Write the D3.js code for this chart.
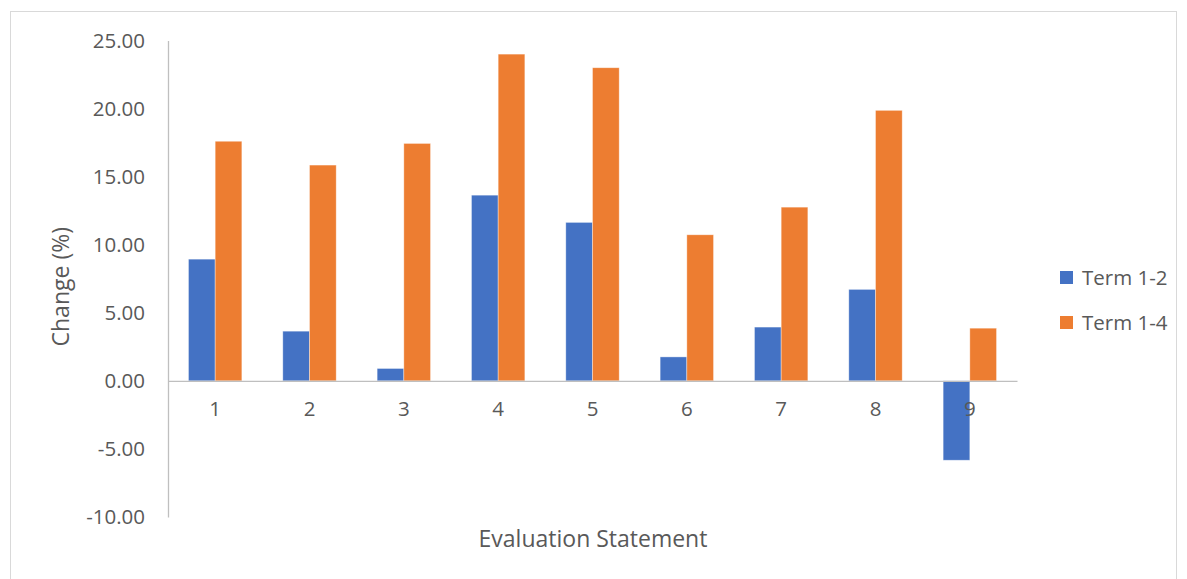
<!DOCTYPE html>
<html>
<head>
<meta charset="utf-8">
<script src="https://cdn.jsdelivr.net/npm/d3@7"></script>
<style>
  html, body { margin: 0; padding: 0; background: #fff; }
  svg text { font-family: "Open Sans", "Liberation Sans", sans-serif; fill: #595959; }
</style>
</head>
<body>
<svg id="chart" width="1187" height="579"></svg>
<script>
// Evaluation statements and percentage change per term comparison
const statements = ["1", "2", "3", "4", "5", "6", "7", "8", "9"];
const seriesNames = ["Term 1-2", "Term 1-4"];
const term12 = [8.94, 3.65, 0.91, 13.64, 11.64, 1.76, 3.95, 6.72, -5.83];
const term14 = [17.60, 15.85, 17.44, 24.00, 23.00, 10.73, 12.76, 19.87, 3.87];
const yTicks = [-10, -5, 0, 5, 10, 15, 20, 25];
const colors = ["#4472C4", "#ED7D31"];

const svg = d3.select("#chart");

// Outer chart frame
svg.append("rect")
  .attr("x", 10.5).attr("y", 11.5)
  .attr("width", 1166).attr("height", 580)
  .attr("fill", "none").attr("stroke", "#D9D9D9").attr("stroke-width", 1);

const plot = { left: 168, right: 1017, top: 40.5, bottom: 517 };

const y = d3.scaleLinear().domain([-10, 25]).range([plot.bottom, plot.top]);
const x0 = d3.scaleBand().domain(statements).range([plot.left, plot.right]).padding(0);
const groupWidth = x0.bandwidth() * 0.566;
const x1 = d3.scaleBand().domain(seriesNames)
  .range([(x0.bandwidth() - groupWidth) / 2, (x0.bandwidth() + groupWidth) / 2]);

const rows = statements.map((s, i) => ({ s, vals: [term12[i], term14[i]] }));

// Bars
const groups = svg.append("g").selectAll("g").data(rows).join("g")
  .attr("transform", d => `translate(${x0(d.s)},0)`);
groups.selectAll("rect")
  .data(d => d.vals.map((v, k) => ({ v, k })))
  .join("rect")
  .attr("x", d => x1(seriesNames[d.k]))
  .attr("width", x1.bandwidth())
  .attr("y", d => y(Math.max(0, d.v)))
  .attr("height", d => Math.abs(y(d.v) - y(0)))
  .attr("fill", d => colors[d.k])
  .attr("stroke", "#fff").attr("stroke-opacity", 0.5).attr("stroke-width", 0.75);

// Tick labels with two decimals and a plain hyphen for negatives
const fmt2 = v => (v < 0 ? "-" : "") + Math.abs(v).toFixed(2);

// Vertical value axis
const yAxis = svg.append("g")
  .attr("transform", `translate(${plot.left},0)`)
  .call(d3.axisLeft(y).tickValues(yTicks).tickSize(0).tickPadding(23)
    .tickFormat(fmt2));
yAxis.select(".domain").attr("stroke", "#BFBFBF").attr("stroke-width", 1.3);
yAxis.selectAll("text").style("font-size", "20.5px").attr("fill", "#595959");

// Horizontal category axis along zero
const xAxis = svg.append("g")
  .attr("transform", `translate(0,${y(0)})`)
  .call(d3.axisBottom(x0).tickSize(0).tickPadding(21));
xAxis.select(".domain").attr("stroke", "#BFBFBF").attr("stroke-width", 1.3);
xAxis.selectAll("text").style("font-size", "20.5px").attr("fill", "#595959");

// Axis titles
svg.append("text")
  .attr("transform", `translate(69,${(plot.top + plot.bottom) / 2 + 8}) rotate(-90)`)
  .attr("text-anchor", "middle")
  .style("font-size", "23px")
  .text("Change (%)");

svg.append("text")
  .attr("x", 593).attr("y", 547)
  .attr("text-anchor", "middle")
  .style("font-size", "23px")
  .text("Evaluation Statement");

// Legend
const legend = svg.append("g").selectAll("g").data(seriesNames).join("g")
  .attr("transform", (d, i) => `translate(1060,${271 + i * 45})`);
legend.append("rect").attr("width", 13).attr("height", 13)
  .attr("fill", (d, i) => colors[i]);
legend.append("text").attr("x", 22).attr("y", 6.5).attr("dy", "0.35em")
  .style("font-size", "20.5px")
  .text(d => d);
</script>
</body>
</html>
